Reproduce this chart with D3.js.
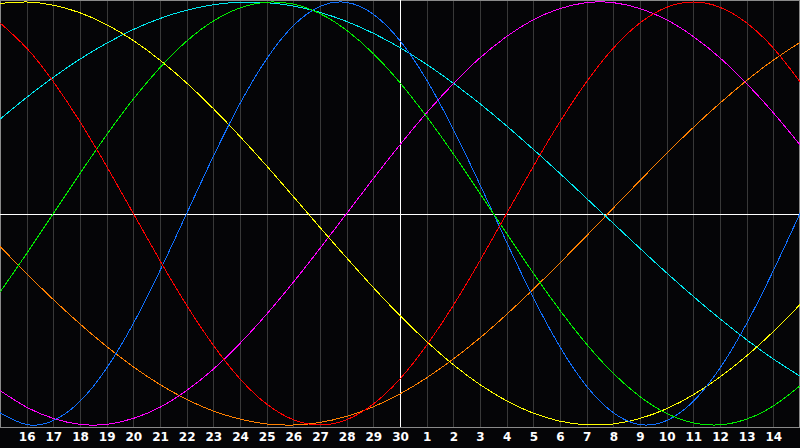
<!DOCTYPE html>
<html>
<head>
<meta charset="utf-8">
<script src="https://cdn.jsdelivr.net/npm/d3@7"></script>
<style>
  html, body { margin: 0; padding: 0; background: #000; }
  svg { display: block; }
</style>
</head>
<body>
<div id="chart"></div>
<script>
// ----- data: one value per day column (index 0 = day 15 .. index 30 = day 15) ----- //

const days = [15, 16, 17, 18, 19, 20, 21, 22, 23, 24, 25, 26, 27, 28, 29, 30,
              1, 2, 3, 4, 5, 6, 7, 8, 9, 10, 11, 12, 13, 14, 15];

const redValues = [0.901, 0.782, 0.623, 0.434, 0.223, 0, -0.223, -0.434, -0.623, -0.782, -0.901,
  -0.975, -1, -0.975, -0.901, -0.782, -0.623, -0.434, -0.223, 0, 0.223, 0.434, 0.623, 0.782,
  0.901, 0.975, 1, 0.975, 0.901, 0.782, 0.623];

const greenValues = [-0.372, -0.189, 0, 0.189, 0.372, 0.541, 0.690, 0.815, 0.910, 0.972, 0.999,
  0.990, 0.945, 0.866, 0.756, 0.618, 0.458, 0.282, 0.095, -0.095, -0.282, -0.458, -0.618, -0.756,
  -0.866, -0.945, -0.990, -0.999, -0.972, -0.910, -0.815];

const blueValues = [-0.942, -0.998, -0.979, -0.888, -0.731, -0.520, -0.270, 0, 0.270, 0.520, 0.731,
  0.888, 0.979, 0.998, 0.942, 0.817, 0.631, 0.398, 0.136, -0.136, -0.398, -0.631, -0.817, -0.942,
  -0.998, -0.979, -0.888, -0.731, -0.520, -0.270, 0];

const yellowValues = [0.993, 1.000, 0.985, 0.949, 0.893, 0.818, 0.725, 0.617, 0.496, 0.364, 0.225,
  0.080, -0.066, -0.210, -0.350, -0.483, -0.605, -0.715, -0.809, -0.886, -0.944, -0.982, -0.999,
  -0.995, -0.969, -0.923, -0.857, -0.773, -0.673, -0.558, -0.431];

const magentaValues = [-0.837, -0.916, -0.969, -0.997, -0.997, -0.969, -0.916, -0.837, -0.736, -0.614,
  -0.476, -0.325, -0.165, 0, 0.165, 0.325, 0.476, 0.614, 0.736, 0.837, 0.916, 0.969, 0.997, 0.997,
  0.969, 0.916, 0.837, 0.736, 0.614, 0.476, 0.325];

const cyanValues = [0.446, 0.549, 0.644, 0.730, 0.805, 0.870, 0.922, 0.961, 0.987, 0.999, 0.997,
  0.981, 0.951, 0.908, 0.852, 0.784, 0.705, 0.616, 0.519, 0.414, 0.303, 0.189, 0.071, -0.047,
  -0.165, -0.281, -0.392, -0.498, -0.597, -0.688, -0.769];

const orangeValues = [-0.156, -0.284, -0.407, -0.522, -0.629, -0.725, -0.809, -0.879, -0.934, -0.972,
  -0.995, -1.000, -0.988, -0.959, -0.914, -0.853, -0.777, -0.688, -0.588, -0.477, -0.358, -0.233,
  -0.105, 0.026, 0.156, 0.284, 0.407, 0.522, 0.629, 0.725, 0.809];

const series = [
  { name: 'orange', color: '#ff8000', values: orangeValues },
  { name: 'cyan', color: '#00e8f0', values: cyanValues },
  { name: 'magenta', color: '#ff00ff', values: magentaValues },
  { name: 'yellow', color: '#ffff00', values: yellowValues },
  { name: 'blue', color: '#1070ff', values: blueValues },
  { name: 'green', color: '#00ee00', values: greenValues },
  { name: 'red', color: '#ff0000', values: redValues }
];

// ----- chart ----- //

const width = 800;
const height = 448;
const plotBottom = 427;

const svg = d3.select('#chart').append('svg')
  .attr('width', width)
  .attr('height', height)
  .style('background', '#050507');

const x = d3.scaleLinear().domain([0, days.length - 1]).range([0, width]);
const y = d3.scaleLinear().domain([-1, 1]).range([425, 2]);

// vertical grid, one line per day
svg.append('g')
  .selectAll('line')
  .data(d3.range(1, days.length - 1))
  .enter()
  .append('line')
  .attr('x1', d => Math.round(x(d)) + 0.5)
  .attr('x2', d => Math.round(x(d)) + 0.5)
  .attr('y1', 0)
  .attr('y2', plotBottom)
  .attr('stroke', '#383838')
  .attr('stroke-width', 1);

// frame
svg.append('rect')
  .attr('x', 0.5)
  .attr('y', 0.5)
  .attr('width', width - 1)
  .attr('height', plotBottom)
  .attr('fill', 'none')
  .attr('stroke', '#8a8a8a');

// white cross in the middle
svg.append('line')
  .attr('x1', 0).attr('x2', width)
  .attr('y1', Math.round(y(0)) + 0.5).attr('y2', Math.round(y(0)) + 0.5)
  .attr('stroke', '#ffffff');
svg.append('line')
  .attr('x1', Math.round(x(15)) + 0.5).attr('x2', Math.round(x(15)) + 0.5)
  .attr('y1', 0).attr('y2', plotBottom)
  .attr('stroke', '#ffffff');

// curves
const line = d3.line()
  .x((d, i) => x(i))
  .y(d => y(d))
  .curve(d3.curveNatural);

svg.append('g')
  .selectAll('path')
  .data(series)
  .enter()
  .append('path')
  .attr('d', d => line(d.values))
  .attr('fill', 'none')
  .attr('stroke', d => d.color)
  .attr('stroke-width', 1)
  .attr('shape-rendering', 'crispEdges');

// day labels
const axeX = d3.axisBottom(x)
  .tickValues(d3.range(1, days.length - 1))
  .tickFormat(i => days[i])
  .tickSize(0)
  .tickPadding(5);

const groupeX = svg.append('g')
  .attr('transform', `translate(0, ${plotBottom})`)
  .call(axeX);

groupeX.select('.domain').remove();
groupeX.selectAll('text')
  .attr('fill', '#ffffff')
  .style('font-family', '"DejaVu Sans", sans-serif')
  .style('font-weight', 'bold')
  .style('font-size', '12px');
</script>
</body>
</html>
